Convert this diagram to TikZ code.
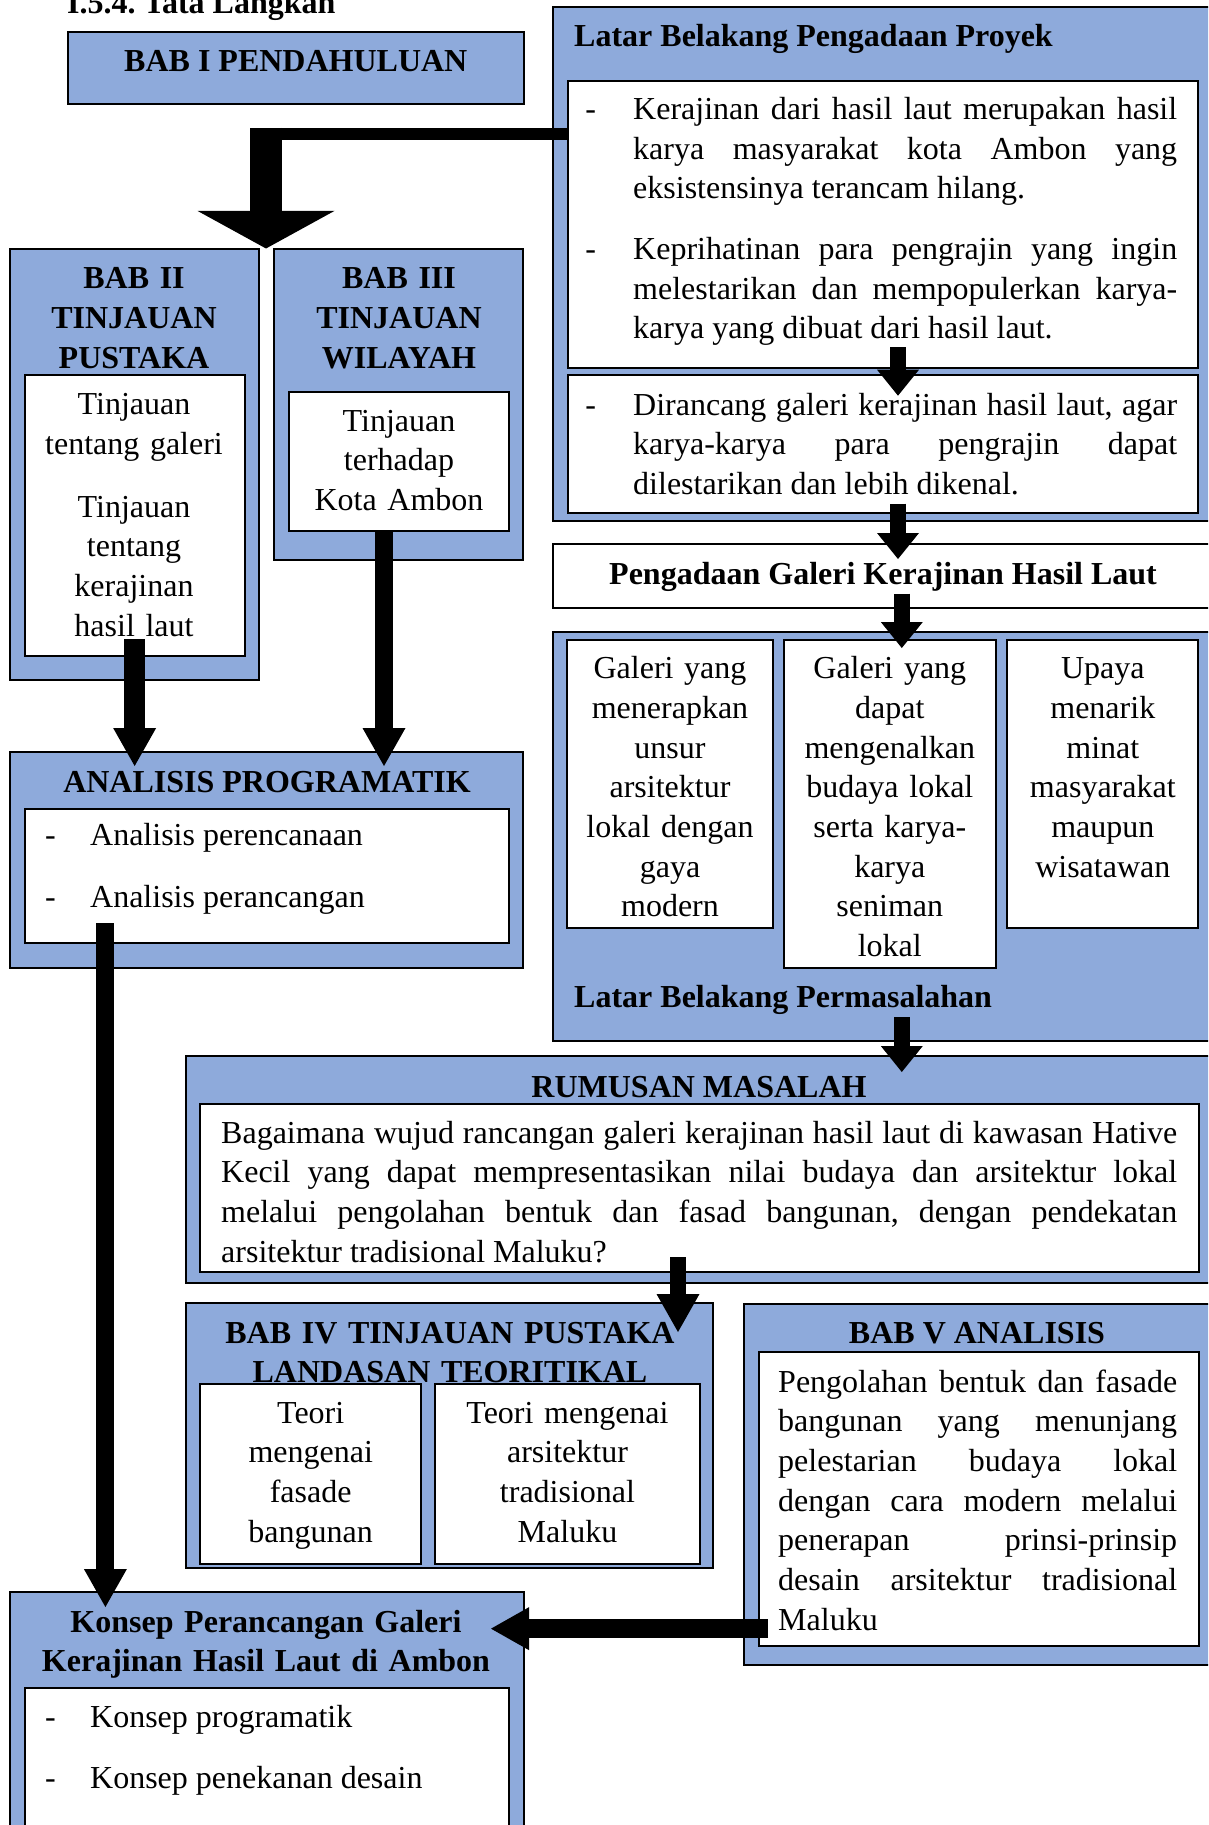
\documentclass[tikz,border=0pt]{standalone}
\usepackage{fontspec}
\setmainfont{Liberation Serif}
\usetikzlibrary{arrows.meta}
\definecolor{boxblue}{RGB}{142,170,219}
\newcommand{\bodysize}{\fontsize{32}{39.7}\selectfont}
\newcommand{\itemdash}[1]{\llap{-\hspace{#1}}}
\tolerance=9999
\hyphenpenalty=10000
\frenchspacing

\tikzset{
  bluebox/.style={draw=black, line width=2pt, fill=boxblue, anchor=north west, inner sep=0pt, outer sep=0pt},
  whitebox/.style={draw=black, line width=2pt, fill=white, anchor=north west, inner sep=0pt, outer sep=0pt},
  txt/.style={inner sep=0pt, font=\bodysize},
  btxt/.style={inner sep=0pt, font=\bodysize\bfseries},
  ctxt/.style={anchor=base, align=center, text width=#1},
  jtxt/.style={anchor=base west, align=justify, text width=#1},
  bigarrow/.style={line width=32pt, -{Triangle[width=137pt,length=37.6pt,line width=0pt]}},
  fatarrow/.style={line width=#1, -{Triangle[width=43pt,length=38pt,line width=0pt]}},
  fatarrow/.default=18pt,
  slimarrow/.style={line width=16pt, -{Triangle[width=42pt,length=26pt,line width=0pt]}},
}

\begin{document}
\begin{tikzpicture}[x=1pt,y=1pt,yscale=-1,xscale=1]
\useasboundingbox (0,0) rectangle (1208,1825);
\clip (0,0) rectangle (1208,1825);

%Shape: Rectangle [BAB I]
\node[bluebox, minimum width=455.5pt, minimum height=72.3pt] (bab1) at (68,31.7) {};

%Shape: Rectangle [Latar Belakang Pengadaan Proyek]
\node[bluebox, minimum width=670pt, minimum height=513.7pt] (lbpp) at (552.8,7.3) {};
\node[whitebox, minimum width=630.6pt, minimum height=286.8pt] (lbppa) at (567.7,81) {};
\node[whitebox, minimum width=630.6pt, minimum height=137.8pt] (lbppb) at (567.7,374.7) {};

%Shape: Rectangle [Pengadaan]
\node[whitebox, minimum width=670pt, minimum height=64.3pt] (gal) at (552.8,543.6) {};

%Shape: Rectangle [Latar Belakang Permasalahan]
\node[bluebox, minimum width=670pt, minimum height=409pt] (lbp) at (552.8,632) {};
\node[whitebox, minimum width=206.2pt, minimum height=287.6pt] (lbpa) at (566.8,640.4) {};
\node[whitebox, minimum width=212.2pt, minimum height=327.6pt] (lbpb) at (783.7,640.4) {};
\node[whitebox, minimum width=190.9pt, minimum height=287.6pt] (lbpc) at (1007.4,640.4) {};

%Shape: Rectangle [BAB II, BAB III]
\node[bluebox, minimum width=249.4pt, minimum height=431.5pt] (bab2) at (9.6,248.5) {};
\node[whitebox, minimum width=219.7pt, minimum height=281.5pt] (bab2in) at (24.8,374.5) {};
\node[bluebox, minimum width=249.4pt, minimum height=311.5pt] (bab3) at (274,248.5) {};
\node[whitebox, minimum width=220.4pt, minimum height=139pt] (bab3in) at (288.6,392) {};

%Shape: Rectangle [Analisis Programatik]
\node[bluebox, minimum width=513.8pt, minimum height=216.3pt] (anl) at (9.6,752) {};
\node[whitebox, minimum width=484.2pt, minimum height=134.3pt] (anlin) at (24.8,808.7) {};

%Shape: Rectangle [Rumusan Masalah]
\node[bluebox, minimum width=1036pt, minimum height=227pt] (rm) at (186.3,1056) {};
\node[whitebox, minimum width=998.4pt, minimum height=168pt] (rmin) at (200.3,1104) {};

%Shape: Rectangle [BAB IV]
\node[bluebox, minimum width=527.1pt, minimum height=265.3pt] (bab4) at (186.3,1302.7) {};
\node[whitebox, minimum width=221pt, minimum height=180pt] (bab4a) at (200.3,1384) {};
\node[whitebox, minimum width=264.7pt, minimum height=180pt] (bab4b) at (435.3,1384) {};

%Shape: Rectangle [BAB V]
\node[bluebox, minimum width=480pt, minimum height=361.5pt] (bab5) at (743.7,1303.5) {};
\node[whitebox, minimum width=439.7pt, minimum height=293.7pt] (bab5in) at (759,1352.3) {};

%Shape: Rectangle [Konsep]
\node[bluebox, minimum width=514pt, minimum height=250pt] (kon) at (10,1592) {};
\node[whitebox, minimum width=483.9pt, minimum height=160pt] (konin) at (24.6,1688) {};

% Text Node
\node[btxt, anchor=base west] (tl) at (67,14) {I.5.4. Tata Langkah};
% Text Node
\node[btxt, anchor=base] (bab1t) at (295.8,71.7) {BAB I PENDAHULUAN};
% Text Node
\node[btxt, anchor=base west] (lbppt) at (574,46.7) {Latar Belakang Pengadaan Proyek};
% Text Node
\node[txt, jtxt=544pt] (lbppa1) at (633,119.3) {\itemdash{37.3pt}Kerajinan dari hasil laut merupakan hasil\linebreak karya masyarakat kota Ambon yang\linebreak eksistensinya terancam hilang.};
% Text Node
\node[txt, jtxt=544pt] (lbppa2) at (633,259.5) {\itemdash{37.3pt}Keprihatinan para pengrajin yang ingin\linebreak melestarikan dan mempopulerkan karya-\linebreak karya yang dibuat dari hasil laut.};
% Text Node
\node[txt, jtxt=544pt] (lbppb1) at (633,415) {\itemdash{37.3pt}Dirancang galeri kerajinan hasil laut, agar\linebreak karya-karya para pengrajin dapat\linebreak dilestarikan dan lebih dikenal.};
% Text Node
\node[btxt, anchor=base] (galt) at (883,584) {Pengadaan Galeri Kerajinan Hasil Laut};
% Text Node
\node[txt, ctxt=200pt] (lbpat) at (670,678.6) {Galeri yang\\menerapkan\\unsur\\arsitektur\\lokal dengan\\gaya\\modern};
% Text Node
\node[txt, ctxt=205pt] (lbpbt) at (889.8,678.6) {Galeri yang\\dapat\\mengenalkan\\budaya lokal\\serta karya-\\karya\\seniman\\lokal};
% Text Node
\node[txt, ctxt=185pt] (lbpct) at (1102.8,678.6) {Upaya\\menarik\\minat\\masyarakat\\maupun\\wisatawan};
% Text Node
\node[btxt, anchor=base west] (lbpt) at (574,1007) {Latar Belakang Permasalahan};
% Text Node
\node[btxt, ctxt=240pt] (bab2t) at (134,288.6) {BAB II\\TINJAUAN\\PUSTAKA};
% Text Node
\node[txt, ctxt=215pt] (bab2int) at (134,414.6) {Tinjauan\\tentang galeri\\[23pt]Tinjauan\\tentang\\kerajinan\\hasil laut};
% Text Node
\node[btxt, ctxt=240pt] (bab3t) at (399,288.6) {BAB III\\TINJAUAN\\WILAYAH};
% Text Node
\node[txt, ctxt=215pt] (bab3int) at (399,431) {Tinjauan\\terhadap\\Kota Ambon};
% Text Node
\node[btxt, anchor=base] (anlt) at (267,792) {ANALISIS PROGRAMATIK};
% Text Node
\node[txt, anchor=base west] (anl1) at (90,845) {\itemdash{34.3pt}Analisis perencanaan};
% Text Node
\node[txt, anchor=base west] (anl2) at (90,907.8) {\itemdash{34.3pt}Analisis perancangan};
% Text Node
\node[btxt, anchor=base] (rmt) at (699,1097) {RUMUSAN MASALAH};
% Text Node
\node[txt, jtxt=956pt] (rmint) at (221,1143) {Bagaimana wujud rancangan galeri kerajinan hasil laut di kawasan Hative\linebreak Kecil yang dapat mempresentasikan nilai budaya dan arsitektur lokal\linebreak melalui pengolahan bentuk dan fasad bangunan, dengan pendekatan\linebreak arsitektur tradisional Maluku?};
% Text Node
\node[btxt, ctxt=500pt] (bab4t) at (450,1343) {BAB IV TINJAUAN PUSTAKA\\LANDASAN TEORITIKAL};
% Text Node
\node[txt, ctxt=210pt] (bab4at) at (310.7,1423) {Teori\\mengenai\\fasade\\bangunan};
% Text Node
\node[txt, ctxt=255pt] (bab4bt) at (567.5,1423) {Teori mengenai\\arsitektur\\tradisional\\Maluku};
% Text Node
\node[btxt, anchor=base] (bab5t) at (977,1343) {BAB V ANALISIS};
% Text Node
\node[txt, jtxt=399pt] (bab5int) at (778,1392) {Pengolahan bentuk dan fasade\linebreak bangunan yang menunjang\linebreak pelestarian budaya lokal\linebreak dengan cara modern melalui\linebreak penerapan prinsi-prinsip\linebreak desain arsitektur tradisional\linebreak Maluku};
% Text Node
\node[btxt, ctxt=500pt] (kont) at (266,1632) {Konsep Perancangan Galeri\\Kerajinan Hasil Laut di Ambon};
% Text Node
\node[txt, anchor=base west] (kon1) at (90,1727) {\itemdash{34.3pt}Konsep programatik};
% Text Node
\node[txt, anchor=base west] (kon2) at (90,1788) {\itemdash{34.3pt}Konsep penekanan desain};

%Straight Lines [elbow from Latar Belakang to BAB II / BAB III]
\coordinate (elbow) at (266,134);
\draw[line width=12.3pt] ([yshift=-90.4pt]lbppa.west) -- (elbow);
\draw[bigarrow] ([yshift=-6.15pt]elbow) -- (elbow |- bab2.north);

%Straight Lines [right column]
\coordinate (a2s) at ([xshift=15pt,yshift=-20.8pt]lbppa.south);
\draw[slimarrow, shorten >=-21pt] (a2s) -- (a2s |- lbppb.north);
\coordinate (a3s) at ([xshift=15pt,yshift=-8.9pt]lbppb.south);
\draw[slimarrow, shorten >=-15.4pt] (a3s) -- (a3s |- gal.north);
\coordinate (a4s) at ([xshift=14pt,yshift=-14.3pt]gal.south);
\draw[slimarrow, shorten >=-16pt] (a4s) -- (a4s |- lbp.north);
\coordinate (a5s) at ([xshift=14pt,yshift=-24pt]lbp.south);
\draw[slimarrow, shorten >=-16pt] (a5s) -- (a5s |- rm.north);

%Straight Lines [Rumusan to BAB IV]
\coordinate (a6s) at ([xshift=-21.5pt,yshift=-15pt]rmin.south);
\draw[fatarrow=16pt, shorten >=-29.3pt] (a6s) -- (a6s |- bab4.north);

%Straight Lines [left column]
\coordinate (a7s) at ([yshift=-17pt]bab2in.south);
\draw[fatarrow=21pt, shorten >=-14pt] (a7s) -- (a7s |- anl.north);
\coordinate (a8s) at ([xshift=-14.8pt]bab3in.south);
\draw[fatarrow, shorten >=-14pt] (a8s) -- (a8s |- anl.north);
\coordinate (a9s) at ([xshift=-161.5pt,yshift=-20pt]anlin.south);
\draw[fatarrow, shorten >=-15pt] (a9s) -- (a9s |- kon.north);

%Straight Lines [BAB V to Konsep]
\coordinate (a10s) at ([xshift=9pt,yshift=129.5pt]bab5in.west);
\draw[fatarrow=19pt, shorten >=-33pt] (a10s) -- (a10s -| kon.east);

\end{tikzpicture}
\end{document}
